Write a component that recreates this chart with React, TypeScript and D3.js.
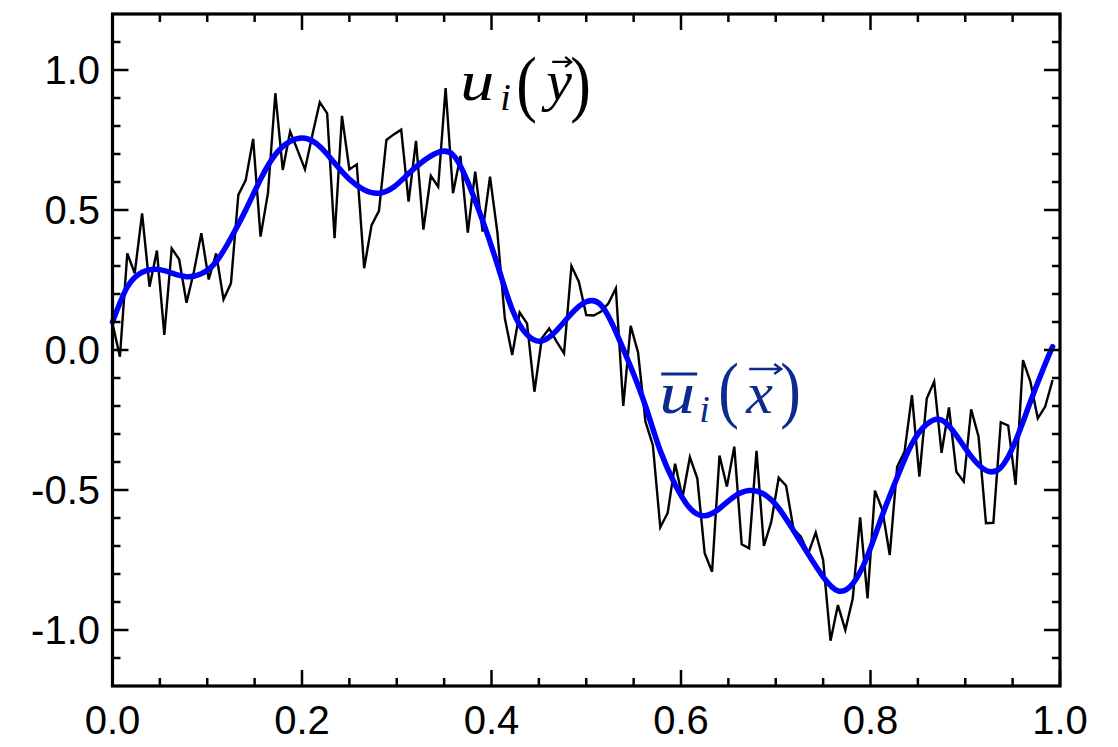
import React from 'react'
import * as d3 from 'd3'

// noisy field u_i(y), sampled at x = i/128
const noisy = [
  0.095, -0.024, 0.345, 0.274, 0.488, 0.226, 0.355, 0.054, 0.363, 0.324,
  0.169, 0.28, 0.417, 0.252, 0.345, 0.181, 0.238, 0.554, 0.607, 0.754,
  0.405, 0.56, 0.917, 0.643, 0.78, 0.714, 0.645, 0.768, 0.885, 0.845,
  0.399, 0.836, 0.645, 0.663, 0.292, 0.446, 0.497, 0.75, 0.77, 0.787,
  0.53, 0.747, 0.43, 0.622, 0.583, 0.935, 0.56, 0.693, 0.419, 0.637,
  0.423, 0.619, 0.418, 0.113, -0.018, 0.134, 0.095, -0.149, 0.042, 0.077,
  0.03, -0.012, 0.3, 0.244, 0.125, 0.123, 0.137, 0.167, 0.22, -0.2,
  0.086, -0.009, -0.256, -0.34, -0.633, -0.582, -0.406, -0.527, -0.383, -0.458,
  -0.726, -0.792, -0.377, -0.488, -0.345, -0.694, -0.708, -0.36, -0.7, -0.613,
  -0.456, -0.485, -0.64, -0.667, -0.726, -0.652, -0.75, -1.038, -0.911, -1.0,
  -0.888, -0.598, -0.887, -0.502, -0.571, -0.732, -0.417, -0.363, -0.161, -0.452,
  -0.173, -0.113, -0.367, -0.205, -0.435, -0.47, -0.212, -0.31, -0.619, -0.617,
  -0.258, -0.27, -0.482, -0.036, -0.113, -0.244, -0.202, -0.107,
]

// filtered field ubar_i(x), sampled at x = j/64, plus last sample at 127/128
const smooth = [
  0.1, 0.225, 0.278, 0.288, 0.275, 0.262, 0.272, 0.315, 0.4, 0.5,
  0.61, 0.698, 0.745, 0.756, 0.727, 0.668, 0.61, 0.572, 0.56, 0.582,
  0.63, 0.675, 0.706, 0.697, 0.6, 0.462, 0.305, 0.145, 0.055, 0.032,
  0.07, 0.13, 0.172, 0.16, 0.065, -0.06, -0.2, -0.36, -0.48, -0.565,
  -0.592, -0.566, -0.523, -0.502, -0.515, -0.565, -0.645, -0.73, -0.81, -0.86,
  -0.835, -0.735, -0.59, -0.455, -0.335, -0.265, -0.25, -0.305, -0.38, -0.43,
  -0.42, -0.325, -0.185, -0.05,
]
const smoothLast = 0.012

const xMajor = [0, 0.2, 0.4, 0.6, 0.8, 1.0]
const yMajor = [-1.0, -0.5, 0.0, 0.5, 1.0]

const labelNoisy = { x: 0.367, y: 0.893 }
const labelSmooth = { x: 0.577, y: -0.225 }

const W = 1118
const H = 747

export default function App() {
  const x = d3.scaleLinear().domain([0, 1]).range([112.5, 1060])
  const y = d3.scaleLinear().domain([-1.2, 1.2]).range([686, 14])

  const noisyPts: [number, number][] = noisy.map((v, i) => [i / 128, v])
  const smoothPts: [number, number][] = smooth.map((v, j) => [j / 64, v] as [number, number])
  smoothPts.push([127 / 128, smoothLast])

  const line = d3
    .line<[number, number]>()
    .x((d) => x(d[0]))
    .y((d) => y(d[1]))
  const smoothLine = d3
    .line<[number, number]>()
    .x((d) => x(d[0]))
    .y((d) => y(d[1]))
    .curve(d3.curveNatural)

  const xMinor = d3.range(0, 1.0001, 0.05).filter((v) => !xMajor.some((m) => Math.abs(m - v) < 1e-6))
  const yMinor = d3.range(-1.1, 1.1001, 0.1).filter((v) => !yMajor.some((m) => Math.abs(m - v) < 1e-6))

  const [x0, x1] = x.range()
  const [yb, yt] = y.range()
  const major = 16
  const minor = 8

  const l1x = x(labelNoisy.x)
  const l1y = y(labelNoisy.y)
  const l2x = x(labelSmooth.x)
  const l2y = y(labelSmooth.y)
  const navy = '#0d2b8f'

  return (
    <svg width={W} height={H} style={{ position: 'absolute', left: 0, top: 0, background: '#fff' }}>
      <rect width={W} height={H} fill="#fff" />
      <path d={line(noisyPts) || ''} fill="none" stroke="#000" strokeWidth={2.4} />
      <path d={smoothLine(smoothPts) || ''} fill="none" stroke="#0000ff" strokeWidth={5.5} strokeLinecap="round" />

      {/* ticks, mirrored on all four sides */}
      <g stroke="#000" strokeWidth={2.5}>
        {xMajor.map((v) => (
          <g key={'xm' + v}>
            <line x1={x(v)} x2={x(v)} y1={yb} y2={yb - major} />
            <line x1={x(v)} x2={x(v)} y1={yt} y2={yt + major} />
          </g>
        ))}
        {xMinor.map((v) => (
          <g key={'xn' + v}>
            <line x1={x(v)} x2={x(v)} y1={yb} y2={yb - minor} />
            <line x1={x(v)} x2={x(v)} y1={yt} y2={yt + minor} />
          </g>
        ))}
        {yMajor.map((v) => (
          <g key={'ym' + v}>
            <line x1={x0} x2={x0 + major} y1={y(v)} y2={y(v)} />
            <line x1={x1} x2={x1 - major} y1={y(v)} y2={y(v)} />
          </g>
        ))}
        {yMinor.map((v) => (
          <g key={'yn' + v}>
            <line x1={x0} x2={x0 + minor} y1={y(v)} y2={y(v)} />
            <line x1={x1} x2={x1 - minor} y1={y(v)} y2={y(v)} />
          </g>
        ))}
      </g>
      <rect x={x0} y={yt} width={x1 - x0} height={yb - yt} fill="none" stroke="#000" strokeWidth={3.2} />

      {/* tick labels */}
      <g fontFamily="Liberation Sans, Arial, sans-serif" fontSize={40} fill="#000">
        {xMajor.map((v) => (
          <text key={'xl' + v} x={x(v)} y={734} textAnchor="middle">
            {v.toFixed(1)}
          </text>
        ))}
        {yMajor.map((v) => (
          <text key={'yl' + v} x={100} y={y(v) + 14} textAnchor="end">
            {v.toFixed(1)}
          </text>
        ))}
      </g>

      {/* u_i(y) label */}
      <g transform={`translate(${l1x},${l1y})`} fontFamily="Liberation Serif, serif" fill="#000">
        <text x={0} y={0} fontSize={58} fontStyle="italic" textLength={34} lengthAdjust="spacingAndGlyphs">u</text>
        <text x={40} y={10} fontSize={38} fontStyle="italic">i</text>
        <text transform="translate(56,8) scale(1,1.2)" fontSize={62}>(</text>
        <text x={86} y={0} fontSize={58} fontStyle="italic">y</text>
        <path d="M92,-38 H111 M105,-43 L111,-38 L105,-33" fill="none" stroke="#000" strokeWidth={2.2} />
        <text transform="translate(110,8) scale(1,1.2)" fontSize={62}>)</text>
      </g>

      {/* ubar_i(x) label */}
      <g transform={`translate(${l2x},${l2y})`} fontFamily="Liberation Serif, serif" fill={navy}>
        <line x1={2} x2={38} y1={-39} y2={-39} stroke={navy} strokeWidth={3} />
        <text x={0} y={0} fontSize={60} fontStyle="italic" textLength={36} lengthAdjust="spacingAndGlyphs">u</text>
        <text x={40} y={9} fontSize={38} fontStyle="italic">i</text>
        <text transform="translate(59,1) scale(1,1.2)" fontSize={62}>(</text>
        <text x={87} y={0} fontSize={60} fontStyle="italic">x</text>
        <path d="M90,-44 H122 M115,-49 L122,-44 L115,-39" fill="none" stroke={navy} strokeWidth={2.4} />
        <text transform="translate(121,1) scale(1,1.2)" fontSize={62}>)</text>
      </g>
    </svg>
  )
}
